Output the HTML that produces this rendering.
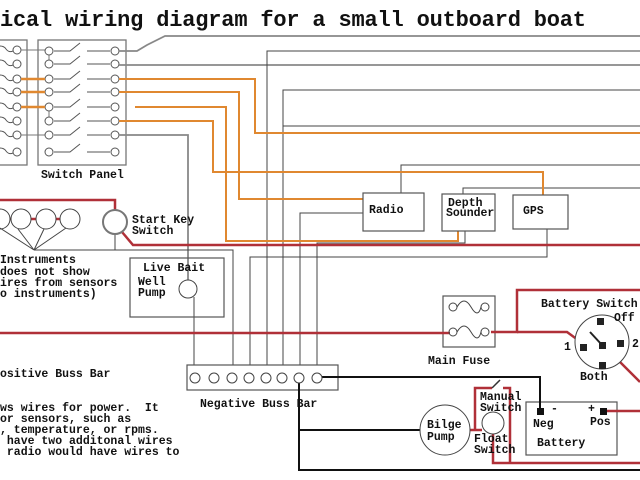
<!DOCTYPE html>
<html><head><meta charset="utf-8"><style>
html,body{margin:0;padding:0;background:#fff;width:640px;height:480px;overflow:hidden}
svg{display:block}
text{font-family:"Liberation Mono",monospace;font-weight:bold;fill:#111}
</style></head><body>
<svg width="640" height="480" viewBox="0 0 640 480">
<text x="0" y="26" font-size="22" textLength="586">ical wiring diagram for a small outboard boat</text>

<g fill="none" stroke="#777" stroke-width="1.3">
<rect x="-5" y="40" width="32" height="125"/>
<rect x="38" y="40" width="88" height="125"/>
</g>
<g fill="#fff" stroke="#555" stroke-width="1">
<circle cx="17" cy="50" r="4"/><circle cx="17" cy="64" r="4"/><circle cx="17" cy="79" r="4"/><circle cx="17" cy="92" r="4"/>
<circle cx="17" cy="107" r="4"/><circle cx="17" cy="121" r="4"/><circle cx="17" cy="135" r="4"/><circle cx="17" cy="152" r="4"/>
</g>
<g fill="none" stroke="#555" stroke-width="1">
<path d="M0 46 q4 0 6 3 q3 4 7 2"/><path d="M0 60 q4 0 6 3 q3 4 7 2"/><path d="M0 75 q4 0 6 3 q3 4 7 2"/><path d="M0 88 q4 0 6 3 q3 4 7 2"/>
<path d="M0 103 q4 0 6 3 q3 4 7 2"/><path d="M0 117 q4 0 6 3 q3 4 7 2"/><path d="M0 131 q4 0 6 3 q3 4 7 2"/><path d="M0 148 q4 0 6 3 q3 4 7 2"/>
</g>
<g fill="none" stroke="#555" stroke-width="1">
<path d="M54 51 L70 51 L80 43"/><path d="M54 64 L70 64 L80 56"/><path d="M54 79 L70 79 L80 71"/><path d="M54 92 L70 92 L80 84"/>
<path d="M54 107 L70 107 L80 99"/><path d="M54 121 L70 121 L80 113"/><path d="M54 135 L70 135 L80 127"/><path d="M54 152 L70 152 L80 144"/>
<path d="M87 51 H110 M87 64 H110 M87 79 H110 M87 92 H110 M87 107 H110 M87 121 H110 M87 135 H110 M87 152 H110"/>
<path d="M49 55 V60 M49 111 V117" stroke="#777"/>
<path d="M21 50 H45 M21 135 H45" stroke="#777"/>
</g>
<g fill="#fff" stroke="#555" stroke-width="1">
<circle cx="49" cy="51" r="4"/><circle cx="49" cy="64" r="4"/><circle cx="49" cy="79" r="4"/><circle cx="49" cy="92" r="4"/>
<circle cx="49" cy="107" r="4"/><circle cx="49" cy="121" r="4"/><circle cx="49" cy="135" r="4"/><circle cx="49" cy="152" r="4"/>
<circle cx="115" cy="51" r="4"/><circle cx="115" cy="64" r="4"/><circle cx="115" cy="79" r="4"/><circle cx="115" cy="92" r="4"/>
<circle cx="115" cy="107" r="4"/><circle cx="115" cy="121" r="4"/><circle cx="115" cy="135" r="4"/><circle cx="115" cy="152" r="4"/>
</g>
<g stroke="#e08830" stroke-width="2.5"><path d="M21 79 H45 M21 92 H45 M21 107 H45"/></g>
<text x="41" y="178" font-size="11.5">Switch Panel</text>

<g fill="none" stroke="#888" stroke-width="1.8">
<path d="M119 51 H137 L147 45 L165 36 H640"/>
<path d="M119 65 H640"/>
<path d="M119 135 H188 V281"/>
</g>
<g fill="none" stroke="#444" stroke-width="1">
<path d="M267 372 V51 H640"/>
<path d="M283 372 V90 H640"/>
<path d="M283 126 H640"/>
<path d="M300 372 V213 H363"/>
<path d="M317 372 V243 H465 V231"/>
<path d="M250 372 V257 H547 V229"/>
<path d="M233 372 V250 H34"/>
<path d="M194 297 V372"/>
<path d="M401 193 V165 H640"/>
<path d="M463 194 V188 H640"/>
<path d="M115 234 V250"/>
</g>
<g fill="none" stroke="#e08830" stroke-width="2">
<path d="M119 79 H255 V133 H640"/>
<path d="M119 92 H239 V199 H363"/>
<path d="M135 107 H226 V241 H458 V231"/>
<path d="M119 121 H213 V172 H543 V195"/>
</g>
<g fill="#fff" stroke="#555" stroke-width="1.2">
<rect x="363" y="193" width="61" height="38"/>
<rect x="442" y="194" width="53" height="37"/>
<rect x="513" y="195" width="55" height="34"/>
<rect x="130" y="258" width="94" height="59" fill="none"/>
<rect x="443" y="296" width="52" height="51"/>
<rect x="187" y="365" width="151" height="25"/>
<rect x="526" y="402" width="91" height="53"/>
</g>
<text x="369" y="213" font-size="11.5">Radio</text>
<text x="448" y="206" font-size="11.5">Depth</text>
<text x="446" y="216" font-size="11.5">Sounder</text>
<text x="523" y="214" font-size="11.5">GPS</text>
<text x="143" y="271" font-size="11.5">Live Bait</text>
<text x="138" y="285" font-size="11.5">Well</text>
<text x="138" y="296" font-size="11.5">Pump</text>
<circle cx="188" cy="289" r="9" fill="#fff" stroke="#444"/>

<g fill="none" stroke="#b03038" stroke-width="2.5">
<path d="M0 200 H115 V210"/>
<path d="M122 232 L133 245 H640"/>
<path d="M0 333 H450"/>
<path d="M491 332 H517 V290 H640"/>
<path d="M517 332 H567 L578 340"/>
<path d="M620 362 L640 382"/>
<path d="M0 219 H60"/>
<path d="M606 411 H640"/>
<path d="M470 430 H482 M475 430 V388 H492"/>
<path d="M503 388 H510 V463"/>
<path d="M493 434 V463 H640"/>
</g>
<path d="M492 388 L500 380" stroke="#333" stroke-width="1.5"/>
<g fill="#fff" stroke="#444" stroke-width="1">
<circle cx="0" cy="219" r="10"/><circle cx="21" cy="219" r="10"/><circle cx="46" cy="219" r="10"/><circle cx="70" cy="219" r="10"/>
</g>
<g stroke="#444" stroke-width="1"><path d="M34 250 L0 228 M34 250 L18 229 M34 250 L44 229 M34 250 L66 228"/></g>
<circle cx="115" cy="222" r="12" fill="#fff" stroke="#777" stroke-width="2"/>
<text x="132" y="223" font-size="11.5">Start Key</text>
<text x="132" y="234" font-size="11.5">Switch</text>

<g fill="none" stroke="#444" stroke-width="1">
<circle cx="453" cy="307" r="4"/><circle cx="485" cy="307" r="4"/>
<path d="M457 307 q7 -12 14 0 q7 12 10 0"/>
<circle cx="453" cy="332" r="4"/><circle cx="485" cy="332" r="4"/>
<path d="M457 332 q7 -12 14 0 q7 12 10 0"/>
</g>
<text x="428" y="364" font-size="11.5">Main Fuse</text>

<circle cx="602" cy="342" r="27" fill="#fff" stroke="#444"/>
<g fill="#222"><rect x="597" y="318" width="7" height="7"/><rect x="580" y="344" width="7" height="7"/><rect x="599" y="342" width="7" height="7"/><rect x="617" y="340" width="7" height="7"/><rect x="599" y="362" width="7" height="7"/></g>
<path d="M590 332 L602 345" stroke="#222" stroke-width="2"/>
<text x="541" y="307" font-size="11.5">Battery Switch</text>
<text x="614" y="321" font-size="11.5">Off</text>
<text x="564" y="350" font-size="11.5">1</text>
<text x="632" y="347" font-size="11.5">2</text>
<text x="580" y="380" font-size="11.5">Both</text>

<g fill="none" stroke="#111" stroke-width="2">
<path d="M321 377 H540 V411"/>
<path d="M299 377 V470 H640"/>
<path d="M299 430 H420"/>
</g>
<g fill="#fff" stroke="#444" stroke-width="1">
<circle cx="195" cy="378" r="5"/><circle cx="214" cy="378" r="5"/><circle cx="232" cy="378" r="5"/><circle cx="249" cy="378" r="5"/>
<circle cx="266" cy="378" r="5"/><circle cx="282" cy="378" r="5"/><circle cx="299" cy="378" r="5"/><circle cx="317" cy="378" r="5"/>
</g>
<text x="200" y="407" font-size="11.5">Negative Buss Bar</text>

<circle cx="445" cy="430" r="25" fill="#fff" stroke="#444"/>
<text x="427" y="428" font-size="11.5">Bilge</text>
<text x="427" y="440" font-size="11.5">Pump</text>
<circle cx="493" cy="423" r="11" fill="#fff" stroke="#444"/>
<text x="480" y="400" font-size="11.5">Manual</text>
<text x="480" y="411" font-size="11.5">Switch</text>
<text x="474" y="442" font-size="11.5">Float</text>
<text x="474" y="453" font-size="11.5">Switch</text>
<g fill="#111"><rect x="537" y="408" width="7" height="7"/><rect x="600" y="408" width="7" height="7"/></g>
<text x="551" y="412" font-size="11.5">-</text>
<text x="588" y="412" font-size="11.5">+</text>
<text x="533" y="427" font-size="11.5">Neg</text>
<text x="590" y="425" font-size="11.5">Pos</text>
<text x="537" y="446" font-size="11.5">Battery</text>

<text x="0" y="263" font-size="11.5">Instruments</text>
<text x="0" y="275" font-size="11.5">does not show</text>
<text x="0" y="286" font-size="11.5">ires from sensors</text>
<text x="0" y="297" font-size="11.5">o instruments)</text>
<text x="0" y="377" font-size="11.5">ositive Buss Bar</text>
<text x="0" y="411" font-size="11.5" xml:space="preserve">ws wires for power.  It</text>
<text x="0" y="422" font-size="11.5">or sensors, such as</text>
<text x="0" y="433" font-size="11.5">, temperature, or rpms.</text>
<text x="0" y="444" font-size="11.5" xml:space="preserve"> have two additonal wires</text>
<text x="0" y="455" font-size="11.5" xml:space="preserve"> radio would have wires to</text>
</svg>
</body></html>
